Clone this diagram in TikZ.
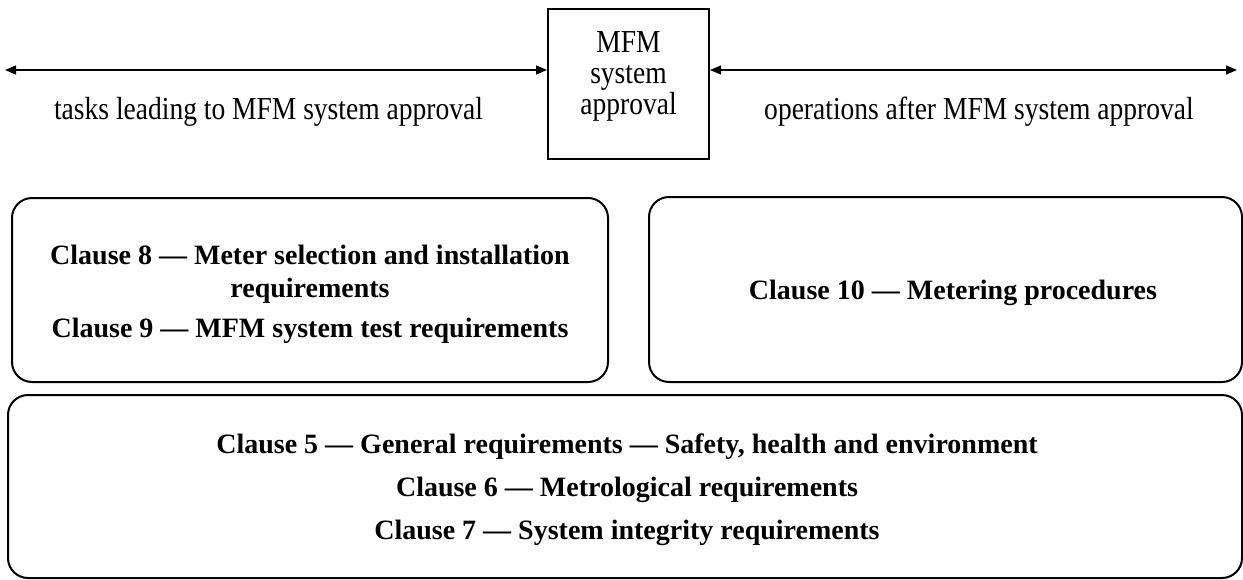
\documentclass[tikz,border=0pt]{standalone}
\usepackage{fontspec}
\setmainfont{Liberation Serif}
\newfontfamily\narrowserif{Liberation Serif}[FakeStretch=0.86]
\usetikzlibrary{arrows.meta}

\tikzset{
  plaintext/.style={font=\narrowserif\fontsize{32}{31}\selectfont, inner sep=0pt, align=center},
  clausetext/.style={font=\bfseries\fontsize{28}{33}\selectfont, inner sep=0pt, align=center},
  clausebox/.style={draw, line width=2pt, rounded corners=20pt, inner sep=0pt},
  span/.style={line width=1.3pt, {Triangle[length=11pt,width=9pt]}-{Triangle[length=11pt,width=9pt]}},
}

\begin{document}
\begin{tikzpicture}[x=1pt,y=-1pt]
    \useasboundingbox (0,0) rectangle (1243,579);

    \node[draw, line width=2pt, minimum width=161pt, minimum height=150pt, inner sep=0pt] (mfm) at (628.5,84) {};
    \node[plaintext] (mfmlabel) at (628.5,76) {MFM\\system\\approval};

    \coordinate (leftend) at (5,70);
    \coordinate (rightend) at (1237,70);
    \draw[span] (leftend) -- (mfm.west |- leftend);
    \draw[span] (mfm.east |- rightend) -- (rightend);
    \node[plaintext, anchor=base] (before) at (268.5,119) {tasks leading to MFM system approval};
    \node[plaintext, anchor=base] (after) at (979,119) {operations after MFM system approval};

    \node[clausebox, minimum width=596pt, minimum height=184pt] (testbox) at (310,290) {};
    \node[clausebox, minimum width=593pt, minimum height=185pt] (meterbox) at (945.5,289.5) {};
    \node[clausebox, minimum width=1234pt, minimum height=183pt] (generalbox) at (625,486.5) {};

    \node[clausetext] (testtext) at (310,294.5) {Clause 8 — Meter selection and installation\\requirements\\[7pt]Clause 9 — MFM system test requirements};
    \node[clausetext] (metertext) at (953,293.3) {Clause 10 — Metering procedures};
    \node[clausetext] (generaltext) at (627,489.8) {Clause 5 — General requirements — Safety, health and environment\\[10pt]Clause 6 — Metrological requirements\\[10pt]Clause 7 — System integrity requirements};
\end{tikzpicture}
\end{document}
